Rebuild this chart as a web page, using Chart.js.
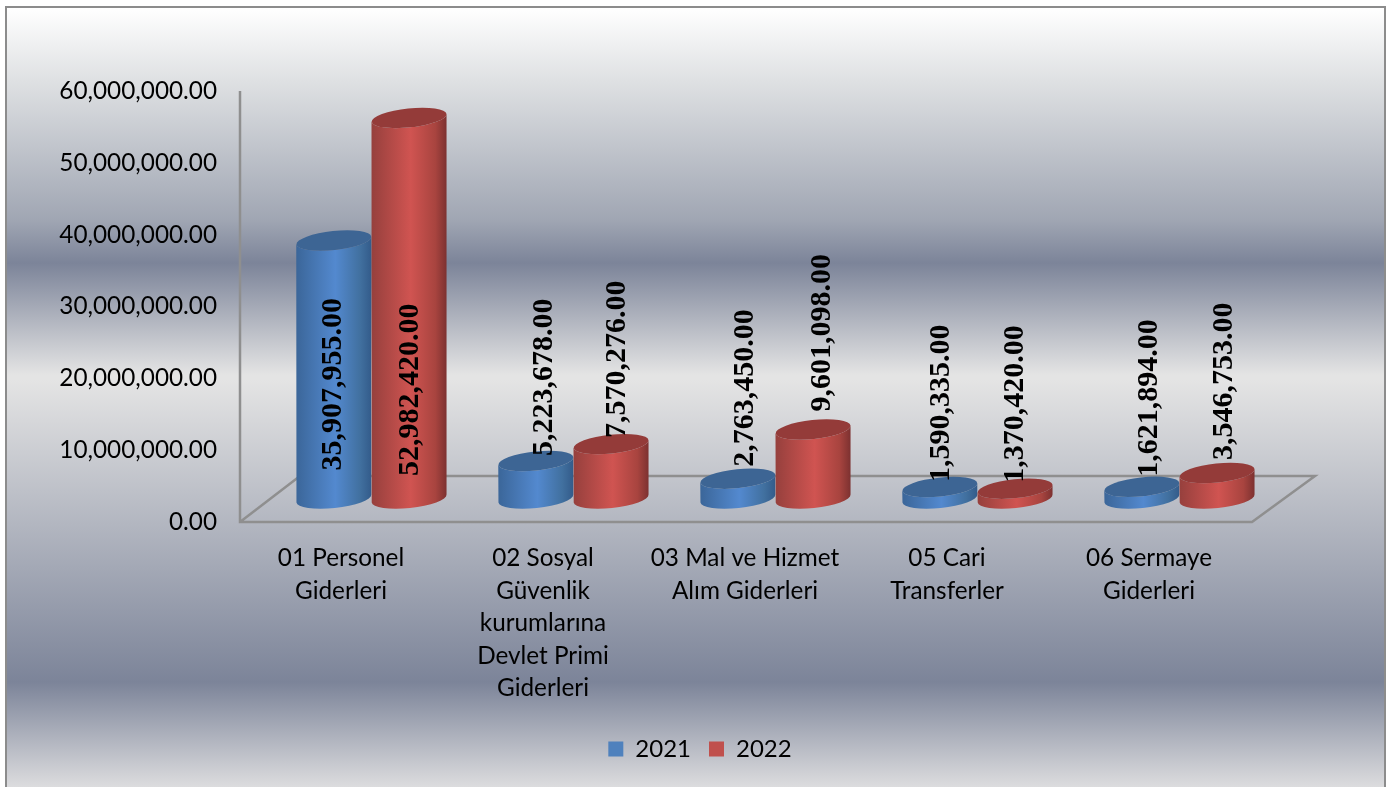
<!DOCTYPE html>
<html>
<head>
<meta charset="utf-8">
<script src="https://cdn.jsdelivr.net/npm/chart.js@4"></script>
<style>
html,body{margin:0;padding:0;background:#fff;}
#frame{position:absolute;left:5px;top:6px;width:1377px;height:781px;border:2px solid #8c8c8c;border-bottom:none;
background:linear-gradient(to bottom,#ffffff 0px,#dfe1e3 72px,#a0a6b3 212px,#7c8499 255px,#e4e4e4 367px,#e4e4e4 372px,#7c8499 674px,#dcdcde 779px);}
#chart{position:absolute;left:0;top:0;}
</style>
</head>
<body>
<div id="frame"></div>
<canvas id="chart" width="1392" height="787"></canvas>
<script>
const categories = [
["01 Personel","Giderleri"],
["02 Sosyal","Güvenlik","kurumlarına","Devlet Primi","Giderleri"],
["03 Mal ve Hizmet","Alım Giderleri"],
["05 Cari","Transferler"],
["06 Sermaye","Giderleri"]
];
const values2021 = [35907955,5223678,2763450,1590335,1621894];
const values2022 = [52982420,7570276,9601098,1370420,3546753];
const tickValues = [0,10000000,20000000,30000000,40000000,50000000,60000000];

// 3D look: bars sit back and to the right of the axis
const depthX = 30.5;
const depthY = 23.5;
const floorBackY = 476;
const floorRightX = 1315;
const floorFrontX = 1252;

// hand placed value labels, same as the source chart
const labelDx = [[-1,8,7,1,7],[1,6,9,0,7]];
const labelGap = [[-230,5,12,5,10],[-358,6,18,6,13]];

const shades = [
{dark:"#3b6699",light:"#5389cf",mid:"#41709f",edge:"#335b8a",top:"#3d6594"},
{dark:"#96403d",light:"#d05451",mid:"#a8443f",edge:"#7c3130",top:"#943b39"}
];

function fmt(v){
return v.toLocaleString("en-US",{minimumFractionDigits:2,maximumFractionDigits:2});
}

function drawCylinder(ctx,bar,shade){
let cx = bar.x + depthX;
let rx = bar.width/2;
let ry = 9.5;
let rot = -6*Math.PI/180;
let top = bar.y - depthY;
let bottom = bar.base - depthY;
let dy = Math.sin(rot)*rx;

let g = ctx.createLinearGradient(cx-rx,0,cx+rx,0);
g.addColorStop(0,shade.dark);
g.addColorStop(0.52,shade.light);
g.addColorStop(0.85,shade.mid);
g.addColorStop(1,shade.edge);

ctx.fillStyle = g;
ctx.beginPath();
ctx.ellipse(cx,bottom,rx,ry,rot,0,Math.PI);
ctx.lineTo(cx-rx,top-dy);
ctx.ellipse(cx,top,rx,ry,rot,Math.PI,0,true);
ctx.closePath();
ctx.fill();

ctx.fillStyle = shade.top;
ctx.beginPath();
ctx.ellipse(cx,top,rx,ry,rot,0,Math.PI*2);
ctx.fill();
}

const cylinderPlugin = {
id:"cylinders",
beforeDatasetsDraw(chart){
const ctx = chart.ctx;
const area = chart.chartArea;
const zero = chart.scales.y.getPixelForValue(0);

// floor and wall
ctx.save();
ctx.strokeStyle = "#8f8f8f";
ctx.lineWidth = 2.5;
ctx.beginPath();
ctx.moveTo(area.left,area.top);
ctx.lineTo(area.left,zero);
ctx.lineTo(floorFrontX,zero);
ctx.lineTo(floorRightX,floorBackY);
ctx.lineTo(area.left+60,floorBackY);
ctx.lineTo(area.left,zero);
ctx.stroke();

chart.data.datasets.forEach((ds,i)=>{
chart.getDatasetMeta(i).data.forEach(bar=>{
drawCylinder(ctx,bar,shades[i]);
});
});

// value labels on top of everything
ctx.fillStyle = "#000";
ctx.font = "bold 30px 'Liberation Serif'";
ctx.textAlign = "left";
ctx.textBaseline = "middle";
chart.data.datasets.forEach((ds,i)=>{
chart.getDatasetMeta(i).data.forEach((bar,j)=>{
ctx.save();
ctx.translate(bar.x+depthX+labelDx[i][j],bar.y-depthY-labelGap[i][j]);
ctx.rotate(-Math.PI/2);
ctx.fillText(fmt(ds.data[j]),0,0);
ctx.restore();
});
});
ctx.restore();
return false;
}
};

const ctx = document.getElementById("chart").getContext("2d");

new Chart(ctx,{
type:"bar",
data:{
labels:categories,
datasets:[
{label:"2021",data:values2021,backgroundColor:"#4f81bd",borderWidth:0},
{label:"2022",data:values2022,backgroundColor:"#c0504d",borderWidth:0}
]
},
options:{
responsive:false,
animation:false,
layout:{padding:{left:8,right:0,top:91,bottom:16}},
datasets:{bar:{categoryPercentage:0.745,barPercentage:1}},
plugins:{
legend:{
position:"bottom",
labels:{
boxWidth:15,
boxHeight:15,
padding:18,
color:"#000",
font:{family:"Lato",size:24}
}
},
tooltip:{enabled:false}
},
scales:{
x:{
grid:{display:false},
border:{display:false},
afterFit(scale){scale.height=197;},
ticks:{
color:"#000",
autoSkip:false,
maxRotation:0,
padding:12,
font:{family:"Lato",size:24.3,lineHeight:1.337}
}
},
y:{
min:0,
max:60000000,
afterFit(scale){scale.width=232;},
afterBuildTicks(scale){scale.ticks=tickValues.map(v=>({value:v}));},
grid:{display:false,drawTicks:false},
border:{display:false},
ticks:{
color:"#000",
padding:23,
font:{family:"Lato",size:24.3},
callback:(v)=>fmt(v)
}
},
// empty strip on the right so the plot ends where the floor does
spacer:{
position:"right",
afterFit(scale){scale.width=142;},
grid:{display:false},
border:{display:false},
ticks:{display:false}
}
}
},
plugins:[cylinderPlugin]
});
</script>
</body>
</html>
